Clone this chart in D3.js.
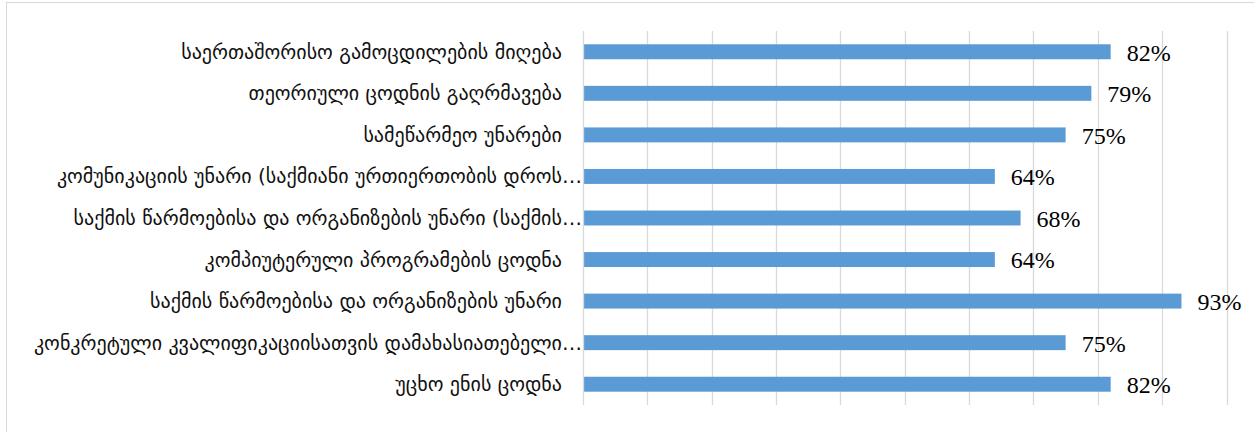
<!DOCTYPE html>
<html>
<head>
<meta charset="utf-8">
<script src="https://cdn.jsdelivr.net/npm/d3@7"></script>
<style>
  html, body { margin: 0; padding: 0; background: #fff; }
  svg { display: block; }
</style>
</head>
<body>
<script>
const categories = [
  "საერთაშორისო გამოცდილების მიღება",
  "თეორიული ცოდნის გაღრმავება",
  "სამეწარმეო უნარები",
  "კომუნიკაციის უნარი (საქმიანი ურთიერთობის დროს…",
  "საქმის წარმოებისა და ორგანიზების უნარი (საქმის…",
  "კომპიუტერული პროგრამების ცოდნა",
  "საქმის წარმოებისა და ორგანიზების უნარი",
  "კონკრეტული კვალიფიკაციისათვის დამახასიათებელი…",
  "უცხო ენის ცოდნა"
];
const values = [82, 79, 75, 64, 68, 64, 93, 75, 82];
const valueLabels = ["82%", "79%", "75%", "64%", "68%", "64%", "93%", "75%", "82%"];
const gridTicks = [0, 10, 20, 30, 40, 50, 60, 70, 80, 90, 100];

const W = 1254, H = 432;
const svg = d3.select("body").append("svg").attr("width", W).attr("height", H);

// chart area border
svg.append("rect")
  .attr("x", 6.5).attr("y", 2.5)
  .attr("width", 1260).attr("height", 440)
  .attr("fill", "#fff").attr("stroke", "#D9D9D9").attr("stroke-width", 1);

const x = d3.scaleLinear().domain([0, 100]).range([583, 1226.5]);
const y = d3.scaleBand().domain(d3.range(categories.length)).range([31, 405]).paddingInner(0.64).paddingOuter(0.32);

// grid
svg.append("g").selectAll("line").data(gridTicks.slice(1)).join("line")
  .attr("x1", d => Math.round(x(d)) + 0.5).attr("x2", d => Math.round(x(d)) + 0.5)
  .attr("y1", 31).attr("y2", 405)
  .attr("stroke", "#D9D9D9").attr("stroke-width", 1.3);

// bars
svg.append("g").selectAll("rect").data(values).join("rect")
  .attr("x", x(0) + 1)
  .attr("y", (d, i) => y(i))
  .attr("width", d => x(d) - x(0) - 1)
  .attr("height", y.bandwidth())
  .attr("fill", "#5B9BD5");

// axis line
svg.append("line")
  .attr("x1", 583.5).attr("x2", 583.5).attr("y1", 31).attr("y2", 405)
  .attr("stroke", "#D9D9D9").attr("stroke-width", 1.3);

// category labels
const catG = svg.append("g");
catG.selectAll("text").data(categories).join("text")
  .attr("x", d => d.endsWith("…") ? 582 : 562)
  .attr("y", (d, i) => y(i) + y.bandwidth() / 2)
  .attr("dy", "0.35em")
  .attr("text-anchor", "end")
  .attr("font-family", "'DejaVu Sans', sans-serif")
  .attr("font-size", 16)
  .attr("fill", "#111")
  .text(d => d);

// fit font size to reference width of first label (~381px)
const firstW = catG.select("text").node().getComputedTextLength();
const fs = 16 * 381 / firstW;
catG.selectAll("text").attr("font-size", fs);

// value labels
svg.append("g").selectAll("text").data(values).join("text")
  .attr("x", d => x(d) + 16)
  .attr("y", (d, i) => y(i) + y.bandwidth() / 2)
  .attr("dy", "0.37em")
  .attr("font-family", "'Liberation Serif', 'Times New Roman', serif")
  .attr("font-size", 24)
  .attr("fill", "#000")
  .text((d, i) => valueLabels[i]);
</script>
</body>
</html>
